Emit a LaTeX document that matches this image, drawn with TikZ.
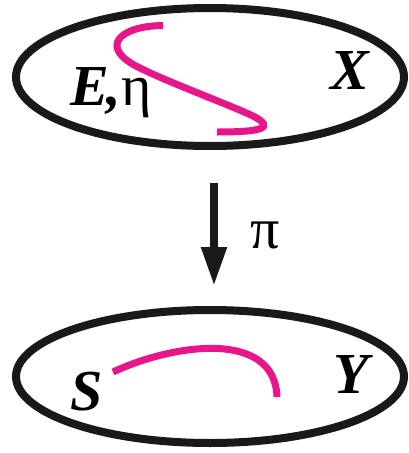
\documentclass[tikz,border=0pt]{standalone}
\usepackage{fontspec}
\setmainfont{Liberation Serif}
\usetikzlibrary{arrows.meta}
\definecolor{pinkc}{RGB}{232,22,139}
\tikzset{
  setring/.style={draw=black!90, line width=8pt},
  fibre/.style={draw=pinkc, line width=7pt},
  lbl/.style={anchor=base west, inner sep=0pt, font=\fontsize{58}{58}\selectfont\bfseries\itshape},
  glbl/.style={anchor=base west, inner sep=0pt, font=\fontsize{58}{58}\selectfont},
  proj/.style={draw=black!90, line width=8pt, -{Triangle[width=24pt,length=39pt]}}
}
\begin{document}
\begin{tikzpicture}[x=1pt,y=-1pt]
\useasboundingbox (0,0) rectangle (409,453);
% ellipses
\draw[setring] (210,77) ellipse [x radius=194pt, y radius=69pt];
\draw[setring] (210,376.5) ellipse [x radius=194pt, y radius=66.5pt];
% fibre curves
\draw[fibre] (163,25.5) .. controls (118,26) and (98,48) .. (140,68)
  .. controls (170,83) and (230,105) .. (253,116)
  .. controls (276,128) and (262,132) .. (217,132);
\draw[fibre] (113,372) .. controls (175,343) and (275,330) .. (277,397);
% labels
\node[lbl] (E) at (70,105) {E\kern-2pt,\textmd{\upshape η}};
\node[lbl] (X) at (330,89) {X};
\node[lbl] (S) at (70,410) {S};
\node[lbl] (Y) at (333,393) {Y};
% projection arrow
\coordinate (pa) at (214,183);
\coordinate (pb) at (214,286);
\draw[proj] (pa) -- (pb);
\node[glbl] (pi) at (250,248) {π};
\end{tikzpicture}
\end{document}
